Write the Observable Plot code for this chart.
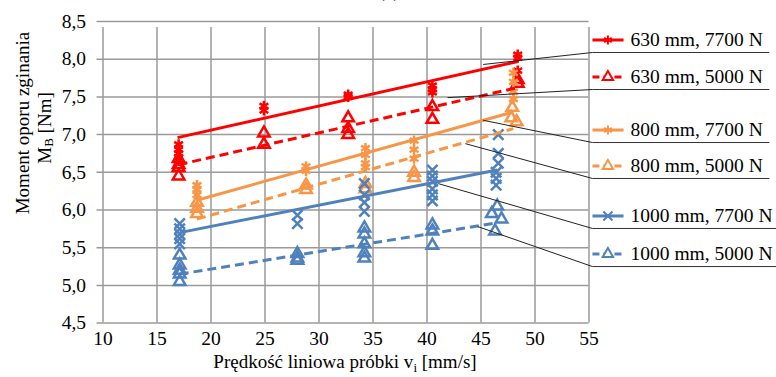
<!DOCTYPE html>
<html><head><meta charset="utf-8">
<script src="https://cdn.jsdelivr.net/npm/d3@7"></script>
<script src="https://cdn.jsdelivr.net/npm/@observablehq/plot@0.6"></script>
<style>body{margin:0;background:#fff;} #chart{position:relative;width:776px;height:377px;}</style>
</head><body><div id="chart"></div>
<script>
// ---- data ----
const xTicks = [10, 15, 20, 25, 30, 35, 40, 45, 50, 55];
const yTicks = [4.5, 5.0, 5.5, 6.0, 6.5, 7.0, 7.5, 8.0, 8.5];
const seriesNames = ["630 mm, 7700 N", "630 mm, 5000 N", "800 mm, 7700 N", "800 mm, 5000 N", "1000 mm, 7700 N", "1000 mm, 5000 N"];

const s630_7700_x = [17, 17, 17, 17, 17, 24.9, 24.9, 32.7, 32.7, 40.5, 40.5, 40.5, 48.4, 48.4, 48.4];
const s630_7700_y = [6.87, 6.80, 6.75, 6.70, 6.65, 7.38, 7.32, 7.53, 7.50, 7.65, 7.60, 7.56, 8.06, 8.02, 7.85];
const s630_5000_x = [17, 17, 17, 17, 24.9, 24.9, 32.7, 32.7, 32.7, 40.5, 40.5, 48.4, 48.4];
const s630_5000_y = [6.68, 6.60, 6.56, 6.45, 7.02, 6.87, 7.22, 7.08, 7.00, 7.37, 7.20, 7.73, 7.68];
const s800_7700_x = [18.7, 18.7, 18.7, 28.8, 28.8, 34.3, 34.3, 34.3, 34.3, 38.8, 38.8, 38.8, 48.0, 48.0, 48.0, 48.0];
const s800_7700_y = [6.33, 6.27, 6.20, 6.58, 6.52, 6.82, 6.73, 6.62, 6.57, 6.92, 6.80, 6.68, 7.82, 7.70, 7.57, 7.47];
const s800_5000_x = [18.7, 18.7, 18.7, 28.8, 28.8, 34.3, 34.3, 38.8, 38.8, 47.9, 47.8, 48.3];
const s800_5000_y = [6.10, 6.02, 5.95, 6.33, 6.27, 6.35, 6.28, 6.50, 6.43, 7.36, 7.22, 7.17];
const s1000_7700_x = [17.1, 17.1, 17.1, 17.1, 17.1, 28.0, 28.0, 34.2, 34.2, 34.2, 34.2, 40.5, 40.5, 40.5, 40.5, 40.5, 40.5, 46.6, 46.6, 46.6, 46.4, 46.4, 46.4];
const s1000_7700_y = [5.82, 5.75, 5.68, 5.62, 5.55, 5.93, 5.82, 6.35, 6.20, 6.10, 5.98, 6.53, 6.45, 6.38, 6.28, 6.20, 6.12, 7.00, 6.75, 6.62, 6.50, 6.42, 6.33];
const s1000_5000_x = [17.1, 17.1, 17.1, 17.1, 17.1, 28.0, 28.0, 28.0, 34.2, 34.2, 34.2, 34.2, 34.2, 40.5, 40.5, 40.5, 46.5, 46.0, 46.9, 46.3];
const s1000_5000_y = [5.40, 5.27, 5.20, 5.15, 5.05, 5.42, 5.36, 5.33, 5.76, 5.68, 5.55, 5.43, 5.36, 5.80, 5.72, 5.53, 6.05, 5.95, 5.88, 5.72];

// trend lines: start and end
const trendX1 = [16.9, 17.0, 18.7, 18.7, 17.1, 17.1];
const trendY1 = [6.96, 6.60, 6.13, 5.88, 5.70, 5.15];
const trendX2 = [48.4, 48.3, 48.0, 48.0, 46.5, 46.5];
const trendY2 = [7.97, 7.62, 7.30, 7.08, 6.53, 5.83];

// legend leader-line anchors on the trend lines
const leaderX = [45.2, 41.9, 45.2, 43.55, 41.05, 44.7];
const leaderY = [7.93, 7.49, 7.19, 6.88, 6.35, 5.78];
// legend rows (underline level)
const legendY = [8.089, 7.598, 6.895, 6.418, 5.755, 5.250];

// ---- styles ----
const colors = ["#ff0000", "#ff0000", "#f79646", "#f79646", "#4f81bd", "#4f81bd"];
const symbols = ["asterisk", "triangle", "asterisk", "triangle", "times", "triangle"];
const dashed = [false, true, false, true, false, true];
const FONT = "'Liberation Serif', 'Times New Roman', serif";
const FS = 19.5;

const xs = [s630_7700_x, s630_5000_x, s800_7700_x, s800_5000_x, s1000_7700_x, s1000_5000_x];
const ys = [s630_7700_y, s630_5000_y, s800_7700_y, s800_5000_y, s1000_7700_y, s1000_5000_y];

const fmt = d => d3.format(".1f")(d).replace(".", ",");

const pointMarks = seriesNames.map((name, i) => {
  const rows = xs[i].map((x, j) => ({x, y: ys[i][j]}));
  return Plot.dot(rows, {x: "x", y: "y", symbol: () => symbols[i], r: symbols[i] === "triangle" ? 4.3 : 4.8,
    stroke: colors[i], fill: "none", strokeWidth: 2.5});
});

const trendRows = seriesNames.map((name, i) => ({i, x1: trendX1[i], y1: trendY1[i], x2: trendX2[i], y2: trendY2[i]}));

const legendRows = seriesNames.map((name, i) => ({i, name, lx: leaderX[i], ly: leaderY[i], y: legendY[i]}));
const LX0 = 55.32, LXM = 56.75, LX1 = 58.2, LXT = 58.85;
const legendEnd = [71.7, 71.7, 71.7, 71.7, 72.4, 72.4];

const plot = Plot.plot({
  width: 776, height: 377,
  marginLeft: 102.5, marginRight: 187.5, marginTop: 21, marginBottom: 54.4,
  x: {domain: [10, 55], axis: null},
  y: {domain: [4.5, 8.5], axis: null},
  style: {fontFamily: FONT, fontSize: FS + "px", background: "#fff", overflow: "visible"},
  marks: [
    Plot.ruleY(yTicks, {y: d => d, x1: 10, x2: 55, stroke: "#9a9a9a", strokeWidth: 1.5, insetLeft: -6}),
    Plot.ruleX(xTicks, {x: d => d, y1: 4.5, y2: 8.5, stroke: "#9a9a9a", strokeWidth: 1.5, insetBottom: -6}),
    Plot.text(yTicks, {x: 10, y: d => d, text: fmt, textAnchor: "end", dx: -17, fontSize: FS, fill: "#000"}),
    Plot.text(xTicks, {x: d => d, y: 4.5, text: d => String(d), dy: 16, fontSize: FS, fill: "#000"}),
    ...pointMarks,
    ...trendRows.map(r => Plot.link([r], {x1: "x1", y1: "y1", x2: "x2", y2: "y2", stroke: colors[r.i], strokeWidth: 3,
      strokeDasharray: dashed[r.i] ? "9,5" : null})),
    // leader lines and legend underlines
    Plot.link(legendRows, {x1: "lx", y1: "ly", x2: LX0, y2: "y", stroke: "#222", strokeWidth: 1}),
    Plot.link(legendRows, {x1: LX0, y1: "y", x2: (d) => legendEnd[d.i], y2: "y", stroke: "#333", strokeWidth: 1}),
    // legend keys
    ...legendRows.map(r => Plot.link([r], {x1: LX0, x2: LX1, y1: "y", y2: "y", dy: -12.5, stroke: colors[r.i], strokeWidth: 3,
      strokeDasharray: dashed[r.i] ? "7,4" : null})),
    ...legendRows.map(r => Plot.dot([r], {x: LXM, y: "y", dy: -12.5, symbol: () => symbols[r.i], r: symbols[r.i] === "triangle" ? 3.9 : 4.2,
      stroke: colors[r.i], fill: symbols[r.i] === "triangle" ? "#fff" : "none", strokeWidth: 2})),
    Plot.text(legendRows, {x: LXT, y: "y", dy: -12.5, text: "name", textAnchor: "start", fontSize: FS, fill: "#000"})
  ]
});

document.getElementById("chart").appendChild(plot);

// axis titles with subscripts
const svg = d3.select(plot);
const yl = svg.append("g").attr("font-family", FONT).attr("font-size", 19).attr("fill", "#000");
yl.append("text").attr("transform", "translate(22,123) rotate(-90)").attr("text-anchor", "middle")
  .attr("dominant-baseline", "central").text("Moment oporu zginania");
const t2 = yl.append("text").attr("transform", "translate(44,128) rotate(-90)").attr("text-anchor", "middle")
  .attr("dominant-baseline", "central");
t2.append("tspan").text("M");
t2.append("tspan").attr("font-size", 13).attr("dy", 4).text("B");
t2.append("tspan").attr("dy", -4).text(" [Nm]");

const xl = svg.append("text").attr("font-family", FONT).attr("font-size", 19).attr("fill", "#000")
  .attr("x", 345).attr("y", 368).attr("text-anchor", "middle");
xl.append("tspan").text("Prędkość liniowa próbki v");
xl.append("tspan").attr("font-size", 13).attr("dy", 4).text("i");
xl.append("tspan").attr("dy", -4).text(" [mm/s]");

svg.append("text").attr("font-family", FONT).attr("font-size", FS).attr("fill", "#000")
  .attr("x", 389).attr("y", -3).attr("text-anchor", "middle").text("(a)");
</script></body></html>
